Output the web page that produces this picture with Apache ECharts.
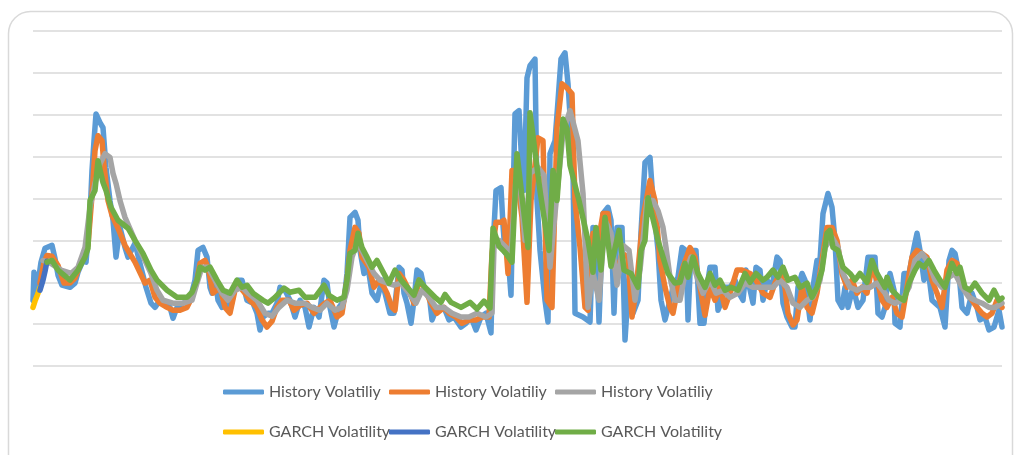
<!DOCTYPE html>
<html>
<head>
<meta charset="utf-8">
<script src="https://cdn.jsdelivr.net/npm/echarts@6/dist/echarts.min.js"></script>
<style>
html,body{margin:0;padding:0;background:#fff;}
#c{width:1016px;height:455px;}
</style>
</head>
<body>
<div id="c"></div>
<script>
// [day index, volatility]
const historyVol1 = [[0,1.57],[2,2.24],[8,1.81],[16,2.48],[24,2.81],[38,2.88],[44,2.57],[50,2.17],[58,1.93],[74,1.88],[84,1.98],[90,2.24],[100,2.52],[106,2.48],[110,3.05],[114,3.60],[118,4.67],[122,5.38],[126,6.02],[134,5.81],[140,5.69],[146,4.74],[154,3.95],[160,3.48],[166,2.60],[174,3.31],[184,2.83],[190,2.60],[204,2.93],[214,2.45],[226,1.88],[236,1.50],[244,1.40],[254,1.57],[264,1.45],[274,1.40],[280,1.14],[288,1.40],[300,1.50],[314,1.57],[324,2.05],[330,2.76],[340,2.83],[348,2.60],[354,1.88],[358,1.74],[364,2.12],[370,1.57],[378,1.40],[384,1.74],[394,1.33],[404,1.88],[410,2.05],[418,2.05],[428,1.57],[440,1.50],[448,1.26],[454,0.86],[460,1.17],[470,1.26],[478,1.26],[488,1.50],[494,1.88],[504,1.81],[514,1.57],[524,1.17],[534,1.57],[544,1.40],[552,0.93],[562,1.40],[572,1.17],[582,2.05],[588,1.98],[594,1.40],[602,0.93],[612,1.40],[622,1.57],[628,2.21],[634,3.55],[644,3.67],[650,3.48],[654,2.76],[662,2.21],[668,2.52],[678,1.74],[688,1.57],[698,2.05],[704,1.74],[714,1.26],[722,1.26],[732,2.36],[738,2.29],[742,1.74],[748,1.50],[756,1.02],[762,1.57],[768,2.29],[776,2.21],[782,1.88],[792,1.74],[798,1.10],[808,1.40],[822,1.40],[832,1.10],[842,1.17],[856,0.93],[866,1.02],[876,1.17],[886,0.86],[896,1.17],[906,1.26],[916,0.79],[920,2.83],[926,4.19],[936,4.26],[940,3.36],[944,2.71],[950,2.64],[956,1.69],[960,3.95],[964,6.02],[972,6.10],[978,4.74],[982,4.19],[988,6.88],[994,7.17],[1004,7.33],[1008,3.95],[1014,2.76],[1024,1.57],[1030,1.05],[1034,5.07],[1044,5.38],[1050,6.33],[1056,7.33],[1064,7.48],[1070,6.74],[1076,5.62],[1080,4.67],[1084,1.26],[1100,1.17],[1114,1.05],[1120,3.31],[1126,3.19],[1132,1.05],[1140,3.64],[1150,3.79],[1156,3.48],[1162,1.26],[1168,3.31],[1178,3.31],[1184,0.62],[1194,2.48],[1200,1.26],[1210,1.57],[1216,3.19],[1224,4.86],[1234,4.98],[1240,3.95],[1250,2.76],[1256,1.57],[1264,1.10],[1274,1.57],[1280,1.88],[1290,2.12],[1298,2.83],[1306,2.76],[1310,1.10],[1316,2.76],[1326,2.76],[1334,1.02],[1342,1.02],[1348,1.88],[1354,2.36],[1364,2.36],[1370,1.33],[1378,1.57],[1384,1.88],[1394,1.88],[1404,2.05],[1412,1.74],[1420,1.57],[1426,2.29],[1432,1.93],[1440,1.50],[1446,2.36],[1454,2.29],[1460,1.57],[1468,2.05],[1478,1.88],[1488,2.60],[1494,2.52],[1500,1.50],[1508,1.17],[1518,0.93],[1524,0.93],[1530,1.88],[1538,2.21],[1544,2.05],[1554,1.10],[1560,1.88],[1568,2.52],[1574,2.52],[1580,3.64],[1590,4.12],[1598,3.79],[1604,3.00],[1610,1.57],[1618,1.40],[1624,1.88],[1630,1.40],[1640,1.88],[1650,1.40],[1660,1.57],[1670,2.60],[1684,2.60],[1690,1.26],[1698,1.17],[1704,1.40],[1708,1.88],[1714,2.21],[1722,1.81],[1724,1.02],[1734,0.93],[1742,2.21],[1752,2.21],[1762,2.83],[1768,3.17],[1774,2.76],[1782,2.05],[1788,2.52],[1798,1.57],[1814,1.40],[1824,0.93],[1832,2.52],[1838,2.76],[1844,2.69],[1852,2.21],[1858,1.40],[1868,1.26],[1878,1.74],[1888,1.40],[1894,1.10],[1904,1.17],[1912,0.86],[1922,0.93],[1932,1.33],[1938,0.93]];

const historyVol2 = [[14,1.98],[22,2.48],[28,2.64],[38,2.62],[50,2.40],[62,1.98],[74,1.98],[84,2.10],[94,2.40],[104,2.76],[110,2.88],[118,4.07],[124,5.14],[130,5.50],[138,5.38],[142,4.79],[150,3.95],[158,3.60],[170,3.29],[184,2.88],[204,2.48],[224,1.98],[234,2.05],[244,1.64],[254,1.50],[268,1.40],[280,1.33],[294,1.33],[308,1.40],[318,1.64],[328,2.05],[334,2.45],[344,2.52],[350,2.36],[360,1.74],[374,1.88],[384,1.40],[394,1.26],[404,1.81],[414,1.88],[424,1.74],[434,1.57],[448,1.40],[458,1.10],[468,0.93],[478,1.07],[488,1.40],[498,1.57],[512,1.57],[522,1.33],[534,1.45],[548,1.50],[562,1.26],[574,1.40],[584,1.50],[594,1.57],[608,1.17],[618,1.26],[628,2.05],[634,2.76],[644,3.31],[652,3.17],[658,2.60],[672,2.36],[682,1.88],[692,2.05],[702,1.88],[708,1.74],[718,1.40],[724,1.33],[732,2.21],[742,2.05],[752,1.81],[762,1.50],[772,2.05],[782,1.88],[796,1.50],[808,1.26],[822,1.40],[832,1.26],[846,1.17],[858,1.02],[872,1.10],[886,1.10],[898,1.17],[912,1.17],[918,2.69],[926,3.43],[936,3.43],[942,3.48],[950,2.21],[958,4.67],[966,4.67],[978,3.55],[988,1.52],[996,3.95],[1010,5.45],[1020,5.38],[1028,1.57],[1038,1.40],[1048,5.69],[1058,6.74],[1068,6.64],[1078,6.50],[1084,3.95],[1094,2.83],[1104,1.40],[1110,1.33],[1120,3.17],[1130,2.93],[1140,3.64],[1150,3.64],[1158,2.52],[1168,2.21],[1178,2.69],[1190,2.60],[1198,1.17],[1206,1.81],[1220,3.55],[1234,4.43],[1244,3.95],[1254,2.52],[1264,1.88],[1274,1.40],[1280,1.26],[1290,1.88],[1300,2.36],[1314,2.83],[1324,2.60],[1334,1.88],[1344,1.21],[1354,1.88],[1364,1.57],[1374,1.88],[1384,1.40],[1394,1.74],[1408,2.29],[1418,2.29],[1434,2.21],[1446,2.05],[1460,1.74],[1474,1.64],[1484,1.98],[1494,2.21],[1504,1.88],[1510,1.26],[1520,0.98],[1528,1.10],[1538,1.88],[1548,1.40],[1558,1.26],[1568,1.74],[1578,2.52],[1588,3.31],[1598,3.31],[1608,3.00],[1618,2.21],[1628,1.88],[1638,2.05],[1648,1.74],[1658,1.88],[1668,1.74],[1678,2.36],[1688,2.05],[1698,1.57],[1708,1.40],[1718,1.64],[1728,1.26],[1738,1.17],[1748,1.88],[1758,2.60],[1768,2.76],[1778,2.69],[1788,2.60],[1798,2.05],[1808,1.74],[1818,1.40],[1828,2.29],[1838,2.52],[1848,2.45],[1858,1.98],[1868,1.74],[1878,1.57],[1888,1.40],[1898,1.26],[1908,1.17],[1918,1.26],[1928,1.57],[1938,1.40]];

const historyVol3 = [[20,2.52],[36,2.45],[56,2.29],[76,2.21],[90,2.36],[104,2.83],[114,3.79],[124,4.36],[134,4.83],[144,5.07],[154,4.98],[160,4.60],[166,4.36],[174,3.95],[184,3.55],[204,3.00],[224,2.52],[236,2.21],[248,1.81],[260,1.57],[280,1.50],[300,1.50],[318,1.57],[328,1.98],[338,2.36],[350,2.36],[364,2.05],[378,1.74],[390,1.57],[404,1.81],[418,1.88],[430,1.74],[448,1.57],[464,1.26],[478,1.19],[492,1.40],[508,1.57],[524,1.50],[542,1.50],[558,1.40],[574,1.33],[588,1.50],[604,1.33],[618,1.40],[628,1.81],[638,2.60],[648,2.93],[658,2.76],[668,2.52],[682,2.21],[694,2.05],[708,1.98],[722,1.93],[736,1.98],[752,1.74],[766,1.50],[778,1.81],[792,1.64],[806,1.40],[822,1.40],[838,1.26],[856,1.17],[872,1.17],[888,1.26],[906,1.17],[918,1.26],[922,2.83],[932,3.00],[946,2.83],[956,2.69],[966,4.48],[972,4.60],[984,3.00],[994,4.60],[1010,4.74],[1022,4.55],[1034,2.36],[1044,3.64],[1060,5.57],[1074,6.10],[1090,5.38],[1100,4.12],[1110,1.40],[1120,2.21],[1132,1.57],[1144,3.48],[1156,3.17],[1168,1.93],[1180,2.88],[1192,2.76],[1204,1.57],[1214,2.29],[1228,3.95],[1240,3.95],[1250,3.71],[1260,3.31],[1266,2.83],[1274,2.12],[1284,1.57],[1294,1.57],[1304,2.21],[1316,2.60],[1330,2.05],[1340,1.74],[1354,2.05],[1366,1.74],[1380,1.81],[1394,1.64],[1410,1.74],[1424,1.98],[1440,1.88],[1454,1.88],[1468,1.88],[1480,1.88],[1494,2.05],[1508,1.88],[1520,1.50],[1534,1.40],[1548,1.57],[1560,1.64],[1574,2.05],[1584,2.83],[1598,3.07],[1610,2.83],[1620,2.21],[1634,1.88],[1648,1.81],[1660,1.88],[1674,1.88],[1688,1.98],[1704,1.74],[1712,1.57],[1724,1.50],[1738,1.57],[1752,1.88],[1764,2.52],[1778,2.69],[1792,2.45],[1804,2.05],[1818,1.88],[1832,2.12],[1844,2.21],[1858,1.88],[1872,1.64],[1884,1.57],[1898,1.50],[1912,1.40],[1924,1.40],[1938,1.50]];

const garchVol1 = [[0,1.40],[4,1.55],[8,1.67],[14,1.88]];
const garchVol2 = [[14,1.81],[20,2.05],[24,2.26],[28,2.50]];

const garchVol3 = [[28,2.48],[38,2.52],[50,2.29],[74,2.05],[90,2.29],[104,2.60],[110,2.81],[114,3.95],[124,4.19],[130,4.90],[140,4.38],[146,4.19],[156,3.79],[170,3.48],[190,3.29],[204,3.00],[220,2.69],[236,2.29],[248,2.05],[268,1.81],[288,1.64],[308,1.64],[318,1.76],[328,2.05],[334,2.36],[344,2.29],[354,2.36],[368,2.05],[380,1.81],[394,1.74],[408,2.05],[418,1.88],[428,1.93],[440,1.74],[460,1.57],[470,1.50],[484,1.64],[492,1.74],[502,1.86],[514,1.76],[532,1.81],[544,1.64],[564,1.64],[582,1.93],[592,1.69],[608,1.57],[622,1.64],[628,2.05],[634,2.69],[644,2.76],[650,3.17],[658,2.83],[668,2.60],[678,2.36],[688,2.52],[698,2.29],[712,1.98],[724,2.29],[736,2.05],[750,1.86],[762,1.69],[772,2.05],[784,1.88],[794,1.76],[806,1.62],[816,1.52],[824,1.71],[836,1.52],[856,1.40],[874,1.52],[888,1.36],[902,1.55],[914,1.38],[920,3.29],[932,2.86],[946,2.69],[958,2.48],[968,5.07],[990,2.83],[994,6.05],[1014,4.19],[1032,2.76],[1040,4.67],[1048,3.95],[1060,5.90],[1068,5.67],[1074,4.79],[1092,3.95],[1110,3.00],[1120,2.24],[1126,3.31],[1136,2.29],[1144,3.55],[1156,2.38],[1172,3.24],[1182,2.29],[1196,2.21],[1210,1.88],[1216,2.76],[1224,3.00],[1230,4.02],[1236,3.71],[1244,3.31],[1250,3.00],[1260,2.60],[1270,2.21],[1284,1.98],[1294,2.00],[1304,2.45],[1310,2.12],[1320,2.60],[1330,2.21],[1344,1.88],[1354,2.21],[1364,1.93],[1374,2.05],[1384,1.81],[1396,1.88],[1410,1.81],[1424,2.21],[1434,2.00],[1446,2.21],[1460,2.05],[1468,2.12],[1480,2.29],[1490,2.12],[1500,2.36],[1510,2.05],[1524,2.12],[1534,1.88],[1548,1.98],[1558,1.64],[1568,1.88],[1578,2.29],[1588,3.17],[1594,3.24],[1600,2.83],[1610,2.76],[1620,2.36],[1634,2.21],[1644,2.05],[1654,2.21],[1668,2.00],[1678,2.52],[1688,2.21],[1704,1.88],[1708,2.12],[1718,1.81],[1732,1.64],[1742,1.57],[1752,1.98],[1764,2.29],[1772,2.45],[1782,2.36],[1792,2.52],[1802,2.29],[1814,2.05],[1824,1.88],[1832,2.21],[1838,2.45],[1848,2.21],[1854,2.36],[1864,1.88],[1874,1.81],[1884,1.98],[1898,1.74],[1912,1.57],[1922,1.81],[1932,1.57],[1938,1.62]];

const seriesNames = ['History Volatiliy', 'History Volatiliy\u200b', 'History Volatiliy\u200b\u200b',
                     'GARCH Volatility', 'GARCH Volatility\u200b', 'GARCH Volatility\u200b\u200b'];
const seriesColors = ['#5B9BD5', '#ED7D31', '#A5A5A5', '#FFC000', '#4472C4', '#70AD47'];
const seriesData = [historyVol1, historyVol2, historyVol3, garchVol1, garchVol2, garchVol3];

const chart = echarts.init(document.getElementById('c'), null, {renderer: 'canvas'});

const legendLeft = [223, 389, 555];
const legendTop = [384, 424];
const legends = seriesNames.map(function (n, i) {
  return {
    data: [n],
    left: legendLeft[i % 3],
    top: legendTop[Math.floor(i / 3)],
    padding: 0,
    itemWidth: 41,
    itemHeight: 5,
    icon: 'roundRect',
    textStyle: {color: '#595959', fontSize: 16, fontFamily: 'Lato'},
    formatter: function (s) { return s.replace(/\u200b/g, ''); },
    selectedMode: false
  };
});

chart.setOption({
  animation: false,
  backgroundColor: '#ffffff',
  graphic: [{
    type: 'rect',
    shape: {x: 8.5, y: 11.5, width: 1004, height: 480, r: 22},
    style: {fill: 'none', stroke: '#d9d9d9', lineWidth: 1.5},
    silent: true, z: -1
  }],
  grid: {left: 33, right: 14, top: 31, bottom: 89, containLabel: false},
  legend: legends,
  xAxis: {
    type: 'value', min: 0, max: 1938,
    axisLine: {show: false}, axisTick: {show: false}, axisLabel: {show: false}, splitLine: {show: false}
  },
  yAxis: {
    type: 'value', min: 0, max: 8, interval: 1,
    axisLine: {show: false}, axisTick: {show: false}, axisLabel: {show: false},
    splitLine: {lineStyle: {color: '#d9d9d9', width: 1.5}}
  },
  series: seriesNames.map(function (n, i) {
    return {
      name: n, type: 'line', data: seriesData[i], showSymbol: false, symbol: 'none',
      color: seriesColors[i],
      lineStyle: {color: seriesColors[i], width: 5.5, cap: 'round', join: 'round'},
      clip: false, z: 2 + i
    };
  })
});
</script>
</body>
</html>
